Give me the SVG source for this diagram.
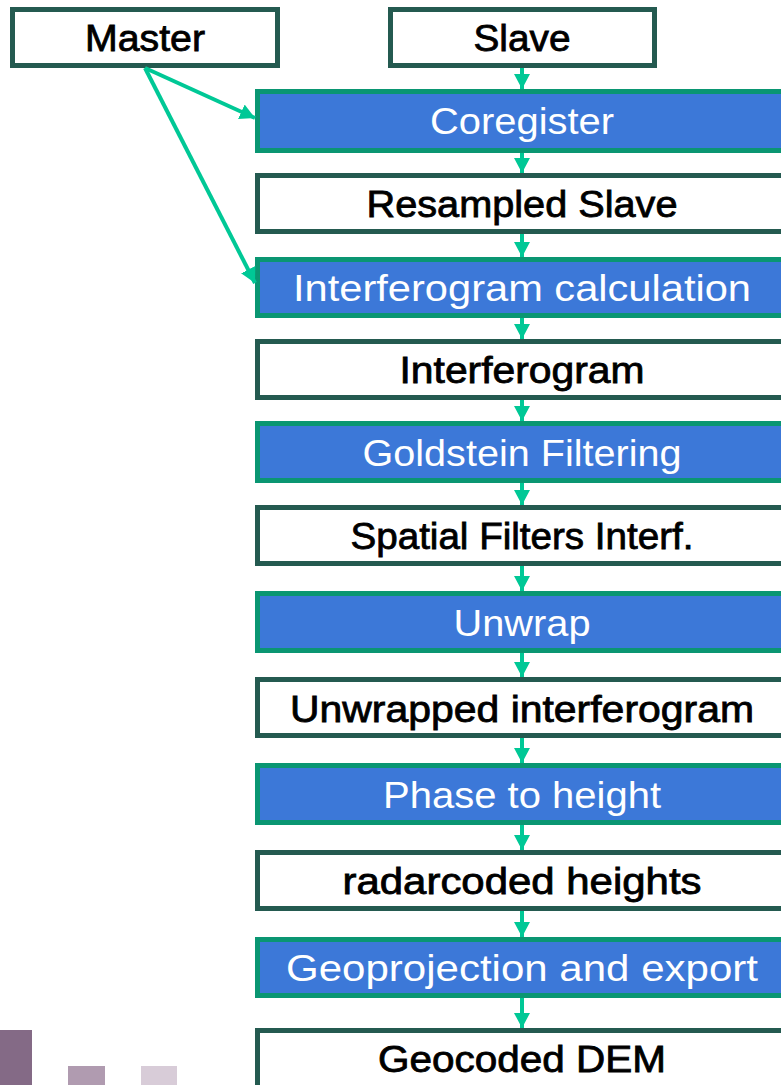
<svg xmlns="http://www.w3.org/2000/svg" width="781" height="1085" viewBox="0 0 781 1085">
  <style>
    .out { fill: #ffffff; stroke: #245a50; stroke-width: 5; }
    .step { fill: #3c78d8; stroke: #0a9672; stroke-width: 5; }
    .lbl { font-family: "Liberation Sans", Arial, sans-serif; font-size: 37px; fill: #000000; stroke: #000000; stroke-width: 0.8; text-anchor: middle; }
    .slbl { font-family: "Liberation Sans", Arial, sans-serif; font-size: 37px; fill: #ffffff; text-anchor: middle; }
    .link { stroke: #00c896; stroke-width: 4; fill: none; marker-end: url(#head); }
  </style>
  <defs>
    <marker id="head" markerUnits="userSpaceOnUse" markerWidth="16" markerHeight="16" viewBox="0 0 16 16" refX="15" refY="8" orient="auto">
      <path d="M0,0 L15,8 L0,16 Z" fill="#00c896"/>
    </marker>
  </defs>

  <rect width="781" height="1085" fill="#ffffff"/>

  <!-- decorative blocks, lower left -->
  <g id="blocks">
    <rect x="0" y="1030" width="32" height="55" fill="#846a86"/>
    <rect x="68" y="1066" width="37" height="19" fill="#b09bb0"/>
    <rect x="141" y="1066" width="36" height="19" fill="#d8ccd8"/>
  </g>

  <g id="master">
    <rect class="out" x="12.5" y="9.5" width="265" height="56"/>
    <text class="lbl" x="145" y="51" textLength="120" lengthAdjust="spacingAndGlyphs">Master</text>
  </g>
  <g id="slave">
    <rect class="out" x="390.5" y="9.5" width="264" height="56"/>
    <text class="lbl" x="522" y="51" textLength="97" lengthAdjust="spacingAndGlyphs">Slave</text>
  </g>

  <g id="coregister">
    <rect class="step" x="257.5" y="91.5" width="540" height="59"/>
    <text class="slbl" x="522" y="134" textLength="184" lengthAdjust="spacingAndGlyphs">Coregister</text>
  </g>
  <g id="resampled-slave">
    <rect class="out" x="257.5" y="175.5" width="540" height="56"/>
    <text class="lbl" x="522" y="217" textLength="311" lengthAdjust="spacingAndGlyphs">Resampled Slave</text>
  </g>
  <g id="interferogram-calculation">
    <rect class="step" x="257.5" y="259.5" width="540" height="56"/>
    <text class="slbl" x="522" y="301" textLength="458" lengthAdjust="spacingAndGlyphs">Interferogram calculation</text>
  </g>
  <g id="interferogram">
    <rect class="out" x="257.5" y="341.5" width="540" height="56"/>
    <text class="lbl" x="522" y="383" textLength="245" lengthAdjust="spacingAndGlyphs">Interferogram</text>
  </g>
  <g id="goldstein-filtering">
    <rect class="step" x="257.5" y="423.5" width="540" height="57"/>
    <text class="slbl" x="522" y="466" textLength="319" lengthAdjust="spacingAndGlyphs">Goldstein Filtering</text>
  </g>
  <g id="spatial-filters">
    <rect class="out" x="257.5" y="507.5" width="540" height="56"/>
    <text class="lbl" x="522" y="549" textLength="343" lengthAdjust="spacingAndGlyphs">Spatial Filters Interf.</text>
  </g>
  <g id="unwrap">
    <rect class="step" x="257.5" y="593.5" width="540" height="57"/>
    <text class="slbl" x="522" y="636" textLength="137" lengthAdjust="spacingAndGlyphs">Unwrap</text>
  </g>
  <g id="unwrapped-interferogram">
    <rect class="out" x="257.5" y="679.5" width="540" height="56"/>
    <text class="lbl" x="522" y="722" textLength="464" lengthAdjust="spacingAndGlyphs">Unwrapped interferogram</text>
  </g>
  <g id="phase-to-height">
    <rect class="step" x="257.5" y="765.5" width="540" height="57"/>
    <text class="slbl" x="522" y="808" textLength="278" lengthAdjust="spacingAndGlyphs">Phase to height</text>
  </g>
  <g id="radarcoded-heights">
    <rect class="out" x="257.5" y="852.5" width="540" height="56"/>
    <text class="lbl" x="522" y="894" textLength="359" lengthAdjust="spacingAndGlyphs">radarcoded heights</text>
  </g>
  <g id="geoprojection">
    <rect class="step" x="257.5" y="939.5" width="540" height="56"/>
    <text class="slbl" x="522" y="981" textLength="472" lengthAdjust="spacingAndGlyphs">Geoprojection and export</text>
  </g>
  <g id="geocoded-dem">
    <rect class="out" x="257.5" y="1030.5" width="540" height="70"/>
    <text class="lbl" x="522" y="1072" textLength="288" lengthAdjust="spacingAndGlyphs">Geocoded DEM</text>
  </g>

  <g id="connectors">
    <line class="link" x1="145" y1="68" x2="255" y2="118"/>
    <line class="link" x1="145" y1="68" x2="255" y2="283"/>
    <line class="link" x1="522" y1="68" x2="522" y2="89"/>
    <line class="link" x1="522" y1="153" x2="522" y2="173"/>
    <line class="link" x1="522" y1="234" x2="522" y2="257"/>
    <line class="link" x1="522" y1="318" x2="522" y2="339"/>
    <line class="link" x1="522" y1="400" x2="522" y2="421"/>
    <line class="link" x1="522" y1="483" x2="522" y2="505"/>
    <line class="link" x1="522" y1="566" x2="522" y2="591"/>
    <line class="link" x1="522" y1="653" x2="522" y2="677"/>
    <line class="link" x1="522" y1="738" x2="522" y2="763"/>
    <line class="link" x1="522" y1="825" x2="522" y2="850"/>
    <line class="link" x1="522" y1="911" x2="522" y2="937"/>
    <line class="link" x1="522" y1="998" x2="522" y2="1028"/>
  </g>
</svg>
